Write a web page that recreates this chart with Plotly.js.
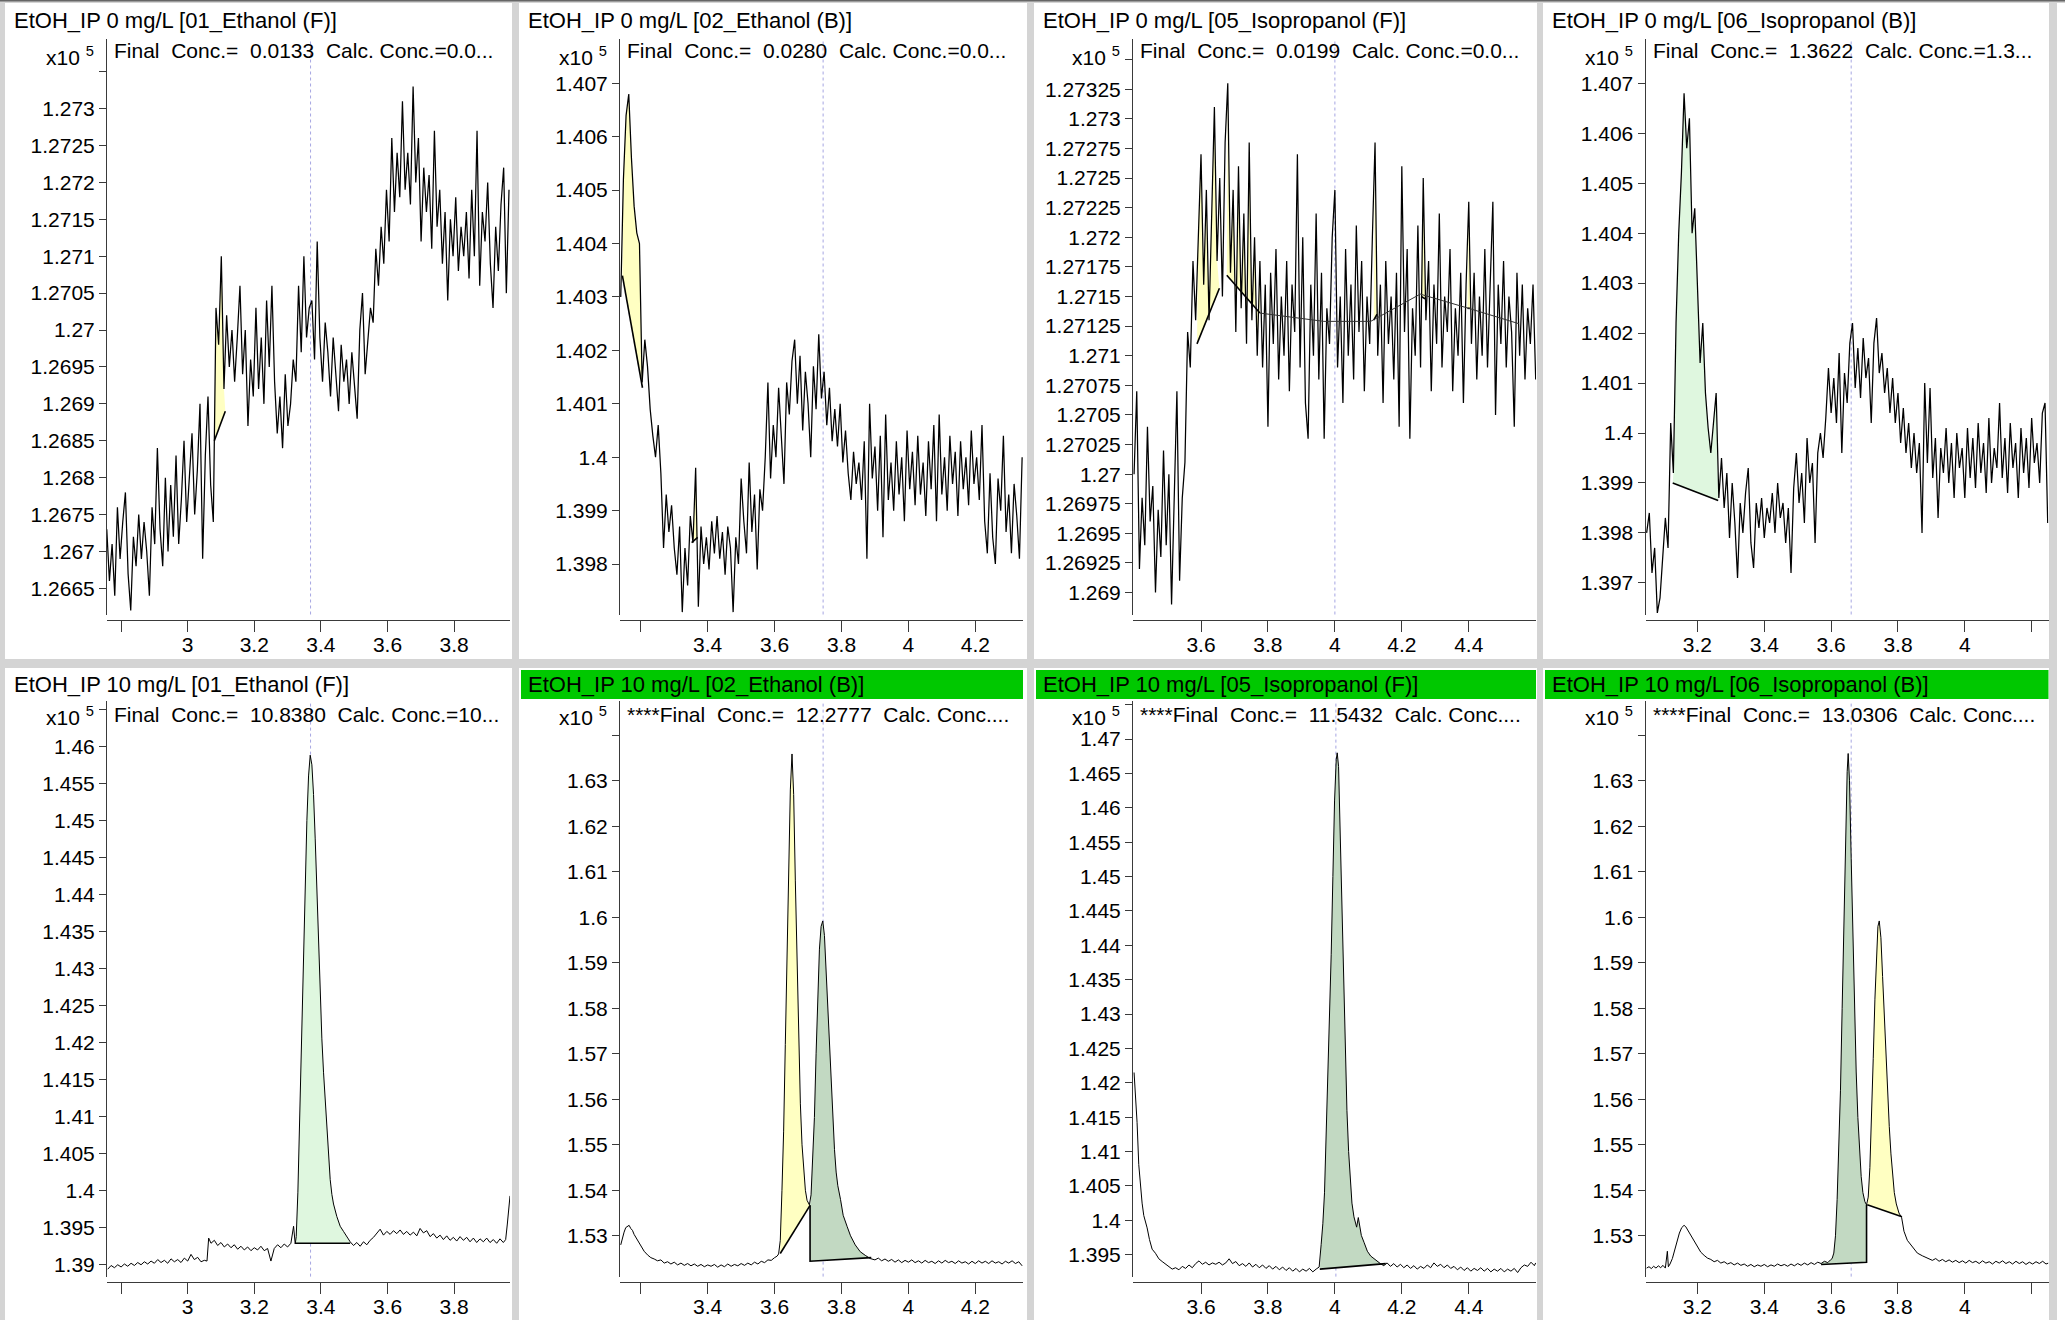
<!DOCTYPE html>
<html><head><meta charset="utf-8">
<script src="https://cdn.plot.ly/plotly-3.0.1.min.js"></script>
<style>html,body{margin:0;padding:0;background:#d4d4d4;}#chart{width:2065px;height:1320px;}</style>
</head><body><div id="chart"></div>
<script>
// ---------------- DATA ----------------
const titles = ['EtOH_IP 0 mg/L [01_Ethanol (F)]','EtOH_IP 0 mg/L [02_Ethanol (B)]','EtOH_IP 0 mg/L [05_Isopropanol (F)]','EtOH_IP 0 mg/L [06_Isopropanol (B)]',
  'EtOH_IP 10 mg/L [01_Ethanol (F)]','EtOH_IP 10 mg/L [02_Ethanol (B)]','EtOH_IP 10 mg/L [05_Isopropanol (F)]','EtOH_IP 10 mg/L [06_Isopropanol (B)]'];
const concTexts = ['Final\u00a0 Conc.=\u00a0 0.0133\u00a0 Calc. Conc.=0.0...','Final\u00a0 Conc.=\u00a0 0.0280\u00a0 Calc. Conc.=0.0...','Final\u00a0 Conc.=\u00a0 0.0199\u00a0 Calc. Conc.=0.0...','Final\u00a0 Conc.=\u00a0 1.3622\u00a0 Calc. Conc.=1.3...',
  'Final\u00a0 Conc.=\u00a0 10.8380\u00a0 Calc. Conc.=10...','****Final\u00a0 Conc.=\u00a0 12.2777\u00a0 Calc. Conc....','****Final\u00a0 Conc.=\u00a0 11.5432\u00a0 Calc. Conc....','****Final\u00a0 Conc.=\u00a0 13.0306\u00a0 Calc. Conc....'];
const flagged = [false,false,false,false,false,true,true,true];
const rtMarks = [3.369,3.745,4.0,3.66,3.369,3.745,4.003,3.66];
const exponentLabel = 'x10 <sup>5</sup>';

// x tick labels (hidden = unlabeled ticks)
const xTicksEth = [3,3.2,3.4,3.6,3.8], xHidEth = [2.8];
const xTicksEthB = [3.4,3.6,3.8,4,4.2], xHidEthB = [3.2];
const xTicksIpF = [3.6,3.8,4,4.2,4.4], xHidIpF = [];
const xTicksIpB = [3.2,3.4,3.6,3.8,4], xHidIpB = [4.2];
// y tick labels
const yT1 = [1.2665,1.267,1.2675,1.268,1.2685,1.269,1.2695,1.27,1.2705,1.271,1.2715,1.272,1.2725,1.273], yH1=[1.2735];
const yT2 = [1.398,1.399,1.4,1.401,1.402,1.403,1.404,1.405,1.406,1.407], yH2=[];
const yT3 = [1.269,1.26925,1.2695,1.26975,1.27,1.27025,1.2705,1.27075,1.271,1.27125,1.2715,1.27175,1.272,1.27225,1.2725,1.27275,1.273,1.27325], yH3=[1.2735];
const yT4 = [1.397,1.398,1.399,1.4,1.401,1.402,1.403,1.404,1.405,1.406,1.407], yH4=[];
const yT5 = [1.39,1.395,1.4,1.405,1.41,1.415,1.42,1.425,1.43,1.435,1.44,1.445,1.45,1.455,1.46], yH5=[1.465];
const yT6 = [1.53,1.54,1.55,1.56,1.57,1.58,1.59,1.6,1.61,1.62,1.63], yH6=[1.64];
const yT7 = [1.395,1.4,1.405,1.41,1.415,1.42,1.425,1.43,1.435,1.44,1.445,1.45,1.455,1.46,1.465,1.47], yH7=[1.475];
const yT8 = [1.53,1.54,1.55,1.56,1.57,1.58,1.59,1.6,1.61,1.62,1.63], yH8=[1.64];

// Panel 1: EtOH_IP 0 mg/L [01_Ethanol (F)]
const t1 = [2.757,2.765,2.773,2.781,2.789,2.797,2.805,2.813,2.821,2.829,
2.837,2.845,2.853,2.861,2.869,2.877,2.885,2.893,2.901,2.909,
2.917,2.925,2.933,2.941,2.949,2.957,2.965,2.973,2.981,2.989,
2.997,3.005,3.013,3.021,3.029,3.037,3.045,3.053,3.061,3.069,
3.077,3.085,3.093,3.101,3.109,3.117,3.125,3.133,3.141,3.149,
3.157,3.165,3.173,3.181,3.189,3.197,3.205,3.213,3.221,3.229,
3.237,3.245,3.253,3.261,3.269,3.277,3.285,3.293,3.301,3.309,
3.317,3.325,3.333,3.341,3.349,3.357,3.365,3.373,3.381,3.389,
3.397,3.405,3.413,3.421,3.429,3.437,3.445,3.453,3.461,3.469,
3.477,3.485,3.493,3.501,3.509,3.517,3.525,3.533,3.541,3.549,
3.557,3.565,3.573,3.581,3.589,3.597,3.605,3.613,3.621,3.629,
3.637,3.645,3.653,3.661,3.669,3.677,3.685,3.693,3.701,3.709,
3.717,3.725,3.733,3.741,3.749,3.757,3.765,3.773,3.781,3.789,
3.797,3.805,3.813,3.821,3.829,3.837,3.845,3.853,3.861,3.869,
3.877,3.885,3.893,3.901,3.909,3.917,3.925,3.933,3.941,3.949,
3.957,3.965];
const a1 = [1.2673,1.2666,1.2671,1.2664,1.2676,1.2669,
1.2674,1.2678,1.2667,1.2662,1.2672,1.2668,
1.2675,1.2669,1.2674,1.2670,1.2664,1.2676,
1.2671,1.2684,1.2673,1.2668,1.2680,1.2670,
1.2679,1.2672,1.2683,1.2671,1.2677,1.2685,1.2674,
1.2680,1.2686,1.2675,1.2681,1.2690,1.2669,1.2683,1.2691,1.2679,1.2674,
1.2703,1.2698,1.2710,1.2692,1.2702,1.2695,1.2700,
1.2693,1.2699,1.2706,1.2694,1.2700,1.2687,1.2696,1.2691,
1.2703,1.2692,1.2699,1.2690,1.2704,1.2695,1.2706,
1.2693,1.2686,1.2691,1.2684,1.2694,1.2687,1.2690,1.2696,
1.2693,1.2706,1.2697,1.2710,1.2699,1.2703,
1.2704,1.2696,1.2712,1.2699,1.2693,1.2701,
1.2697,1.2691,1.2699,1.2694,1.2689,1.2698,1.2693,
1.2696,1.2690,1.2697,1.2692,1.2688,1.2700,1.2705,
1.2694,1.2699,1.2703,1.2701,1.2711,1.2706,1.2714,1.2709,1.2719,
1.2712,1.2726,1.2716,1.2724,1.2718,1.2731,1.2719,
1.2724,1.2717,1.2733,1.2720,1.2726,1.2712,1.2722,1.2716,
1.2721,1.2711,1.2727,1.2714,1.2719,1.2709,1.2716,
1.2704,1.2715,1.2710,1.2718,1.2708,1.2714,1.2710,1.2716,
1.2707,1.2719,1.2710,1.2727,1.2706,1.2716,1.2712,
1.2720,1.2709,1.2703,1.2714,1.2708,1.2717,1.2722,1.2705,1.2719];

// Panel 2: EtOH_IP 0 mg/L [02_Ethanol (B)]
const t2 = [3.14,3.148,3.156,3.164,3.172,3.18,3.188,3.196,3.204,3.212,3.22,3.228,3.236,3.244,3.252,3.26,3.268,3.276,3.284,3.292,
3.3,3.308,3.316,3.324,3.332,3.34,3.348,3.356,3.364,3.372,
3.38,3.388,3.396,3.404,3.412,3.42,3.428,3.436,3.444,3.452,
3.46,3.468,3.476,3.484,3.492,3.5,3.508,3.516,3.524,3.532,
3.54,3.548,3.556,3.564,3.572,3.58,3.588,3.596,3.604,3.612,
3.62,3.628,3.636,3.644,3.652,3.66,3.668,3.676,3.684,3.692,
3.7,3.708,3.716,3.724,3.732,3.74,3.748,3.756,3.764,3.772,
3.78,3.788,3.796,3.804,3.812,3.82,3.828,3.836,3.844,3.852,
3.86,3.868,3.876,3.884,3.892,3.9,3.908,3.916,3.924,3.932,
3.94,3.948,3.956,3.964,3.972,3.98,3.988,3.996,4.004,4.012,
4.02,4.028,4.036,4.044,4.052,4.06,4.068,4.076,4.084,4.092,
4.1,4.108,4.116,4.124,4.132,4.14,4.148,4.156,4.164,4.172,
4.18,4.188,4.196,4.204,4.212,4.22,4.228,4.236,4.244,4.252,
4.26,4.268,4.276,4.284,4.292,4.3,4.308,4.316,4.324,4.332,
4.34];
const a2 = [1.4030,1.4052,1.4064,1.4068,1.4056,1.4047,1.4042,1.4040,1.4014,1.4022,1.4017,1.4009,1.4004,1.4000,1.4006,1.3997,1.3983,1.3993,1.3986,1.3991,
1.3983,1.3978,1.3987,1.3971,1.3983,1.3976,1.3989,1.3984,1.3998,1.3972,
1.3987,1.3980,1.3985,1.3979,1.3988,1.3982,1.3989,1.3981,1.3986,1.3978,
1.3987,1.3983,1.3971,1.3985,1.3980,1.3996,1.3988,1.3982,1.3999,1.3986,
1.3993,1.3979,1.3994,1.3990,1.4000,1.4014,1.3996,1.4006,1.4000,1.4013,
1.4004,1.3995,1.4014,1.4008,1.4018,1.4022,1.4010,1.4019,1.4005,1.4016,
1.4010,1.4000,1.4017,1.4009,1.4023,1.4011,1.4016,1.4006,1.4013,1.4003,
1.4009,1.4002,1.4010,1.3999,1.4005,1.3997,1.3992,1.4001,1.3995,1.3999,
1.3992,1.4003,1.3981,1.4010,1.3996,1.4002,1.3990,1.4004,1.3985,1.4008,
1.3992,1.3999,1.3990,1.4003,1.3993,1.4000,1.3988,1.4005,1.3994,1.4001,
1.3991,1.4004,1.3993,1.3999,1.3989,1.4003,1.3994,1.4006,1.3988,1.4008,
1.3993,1.4000,1.3990,1.4004,1.3995,1.4001,1.3989,1.4003,1.3994,1.4000,
1.3991,1.4005,1.3995,1.4000,1.3992,1.4006,1.3988,1.3982,1.3997,1.3985,
1.3980,1.3996,1.3990,1.4004,1.3986,1.3993,1.3982,1.3995,1.3989,1.3981,
1.4000];

// Panel 3: EtOH_IP 0 mg/L [05_Isopropanol (F)]
const t3 = [3.4,3.408,3.416,3.424,3.432,3.44,3.448,3.456,3.464,3.472,
3.48,3.488,3.496,3.504,3.512,3.52,3.528,3.536,3.544,3.552,
3.56,3.568,3.576,3.584,3.592,3.6,3.608,3.616,3.624,3.632,
3.64,3.648,3.656,3.664,3.672,3.68,3.688,3.696,3.704,3.712,
3.72,3.728,3.736,3.744,3.752,3.76,3.768,3.776,3.784,3.792,
3.8,3.808,3.816,3.824,3.832,3.84,3.848,3.856,3.864,3.872,
3.88,3.888,3.896,3.904,3.912,3.92,3.928,3.936,3.944,3.952,
3.96,3.968,3.976,3.984,3.992,4.0,4.008,4.016,4.024,4.032,
4.04,4.048,4.056,4.064,4.072,4.08,4.088,4.096,4.104,4.112,
4.12,4.128,4.136,4.144,4.152,4.16,4.168,4.176,4.184,4.192,
4.2,4.208,4.216,4.224,4.232,4.24,4.248,4.256,4.264,4.272,
4.28,4.288,4.296,4.304,4.312,4.32,4.328,4.336,4.344,4.352,
4.36,4.368,4.376,4.384,4.392,4.4,4.408,4.416,4.424,4.432,
4.44,4.448,4.456,4.464,4.472,4.48,4.488,4.496,4.504,4.512,
4.52,4.528,4.536,4.544,4.552,4.56,4.568,4.576,4.584,4.592,
4.6];
const a3 = [1.2700,1.2707,1.2692,1.2698,1.2694,1.2704,1.2696,1.2699,1.2690,1.2697,
1.2693,1.2702,1.2694,1.2700,1.2689,1.2697,1.2707,1.2691,1.2698,1.2701,
1.2712,1.2709,1.2718,1.2713,1.2721,1.2727,1.2716,1.2724,1.2713,1.2722,
1.2731,1.2718,1.2725,1.2715,1.2728,1.2733,1.2717,1.2724,1.2712,1.2726,
1.2714,1.2722,1.2711,1.2728,1.2713,1.2720,1.2710,1.2718,1.2709,1.2716,
1.2704,1.2717,1.2711,1.2719,1.2708,1.2715,1.2710,1.2718,1.2707,1.2716,
1.2712,1.2727,1.2709,1.2720,1.2706,1.2703,1.2716,1.2710,1.2722,1.2708,
1.2717,1.2703,1.2714,1.2711,1.2720,1.2724,1.2709,1.2715,1.2706,1.2719,
1.2710,1.2716,1.2708,1.2721,1.2712,1.2718,1.2707,1.2715,1.2711,1.2720,
1.2728,1.2710,1.2716,1.2706,1.2718,1.2711,1.2715,1.2708,1.2717,1.2704,
1.2726,1.2712,1.2719,1.2703,1.2714,1.2710,1.2721,1.2709,1.2725,1.2713,
1.2718,1.2707,1.2716,1.2711,1.2722,1.2709,1.2715,1.2712,1.2719,1.2707,
1.2714,1.2710,1.2717,1.2706,1.2716,1.2723,1.2711,1.2717,1.2708,1.2715,
1.2710,1.2719,1.2709,1.2716,1.2723,1.2705,1.2716,1.2711,1.2718,1.2709,
1.2715,1.2712,1.2704,1.2717,1.2710,1.2716,1.2708,1.2714,1.2711,1.2716,
1.2708];

// Panel 4: EtOH_IP 0 mg/L [06_Isopropanol (B)]
const t4 = [3.048,3.056,3.064,3.072,3.08,3.088,3.096,3.104,3.112,3.12,
3.128,3.136,3.144,3.152,3.16,3.168,3.176,3.184,3.192,3.2,
3.208,3.216,3.224,3.232,3.24,3.248,3.256,3.264,3.272,3.28,
3.288,3.296,3.304,3.312,3.32,3.328,3.336,3.344,3.352,3.36,
3.368,3.376,3.384,3.392,3.4,3.408,3.416,3.424,3.432,3.44,
3.448,3.456,3.464,3.472,3.48,3.488,3.496,3.504,3.512,3.52,
3.528,3.536,3.544,3.552,3.56,3.568,3.576,3.584,3.592,3.6,
3.608,3.616,3.624,3.632,3.64,3.648,3.656,3.664,3.672,3.68,
3.688,3.696,3.704,3.712,3.72,3.728,3.736,3.744,3.752,3.76,
3.768,3.776,3.784,3.792,3.8,3.808,3.816,3.824,3.832,3.84,
3.848,3.856,3.864,3.872,3.88,3.888,3.896,3.904,3.912,3.92,
3.928,3.936,3.944,3.952,3.96,3.968,3.976,3.984,3.992,4.0,
4.008,4.016,4.024,4.032,4.04,4.048,4.056,4.064,4.072,4.08,
4.088,4.096,4.104,4.112,4.12,4.128,4.136,4.144,4.152,4.16,
4.168,4.176,4.184,4.192,4.2,4.208,4.216,4.224,4.232,4.24,
4.248];
const a4 = [1.3980,1.3984,1.3972,1.3977,1.3964,1.3967,1.3975,1.3983,1.3977,1.4002,
1.3992,1.4022,1.4040,1.4052,1.4068,1.4057,1.4063,1.4040,1.4045,1.4030,
1.4014,1.4022,1.4008,1.4001,1.3996,1.4002,1.4008,1.3987,1.3995,1.3985,
1.3992,1.3979,1.3990,1.3982,1.3971,1.3986,1.3980,1.3988,1.3993,1.3978,
1.3973,1.3986,1.3981,1.3987,1.3979,1.3985,1.3982,1.3988,1.3980,1.3990,
1.3983,1.3986,1.3978,1.3985,1.3972,1.3989,1.3996,1.3986,1.3992,1.3982,
1.3999,1.3990,1.3994,1.3978,1.3996,1.4000,1.3995,1.4003,1.4013,1.4004,
1.4011,1.4002,1.4016,1.3996,1.4012,1.4006,1.4018,1.4022,1.4009,1.4017,
1.4007,1.4019,1.4011,1.4015,1.4002,1.4018,1.4023,1.4012,1.4016,1.4008,
1.4013,1.4004,1.4011,1.4002,1.4008,1.3998,1.4005,1.3996,1.4002,1.3993,
1.4000,1.3992,1.3998,1.3980,1.4010,1.3994,1.4009,1.3991,1.3999,1.3983,
1.3997,1.3992,1.4001,1.3990,1.3998,1.3987,1.4000,1.3993,1.3997,1.3987,
1.4001,1.3991,1.3999,1.3989,1.4002,1.3992,1.3998,1.3988,1.4003,1.3990,
1.3997,1.3993,1.4006,1.3991,1.3999,1.3988,1.4002,1.3993,1.3998,1.3987,
1.4001,1.3992,1.3999,1.3989,1.4003,1.3994,1.3998,1.3990,1.4004,1.4006,
1.3982];

// Panel 5: EtOH_IP 10 mg/L [01_Ethanol (F)]
const t5 = [2.76,2.77,2.78,2.79,2.8,2.81,2.82,2.83,2.84,2.85,2.86,2.87,2.88,2.89,2.9,2.91,2.92,2.93,2.94,2.95,
2.96,2.97,2.98,2.99,3.0,3.01,3.02,3.03,3.04,3.05,3.058,3.063,3.07,3.08,3.09,3.1,3.11,3.12,3.13,3.14,
3.15,3.16,3.17,3.18,3.19,3.2,3.21,3.22,3.23,3.24,3.25,3.26,3.27,3.28,3.29,3.3,3.31,3.318,3.323,3.326,
3.331,3.338,3.343,3.348,3.353,3.358,3.363,3.368,3.373,3.378,3.383,3.388,3.393,3.398,3.403,3.408,3.413,3.418,3.423,3.428,
3.433,3.438,3.448,3.458,3.468,3.478,3.488,3.498,3.508,3.518,3.528,3.538,3.548,3.558,3.568,3.578,3.588,3.598,3.608,3.618,
3.628,3.638,3.648,3.658,3.668,3.678,3.688,3.698,3.708,3.718,3.728,3.738,3.748,3.758,3.768,3.778,3.788,3.798,3.808,3.818,
3.828,3.838,3.848,3.858,3.868,3.878,3.888,3.898,3.908,3.918,3.928,3.938,3.948,3.955,3.96,3.965,3.968];
const a5 = [1.3894,1.3899,1.3896,1.3900,1.3897,1.3901,1.3898,1.3902,1.3899,1.3903,1.3900,1.3904,1.3901,1.3905,1.3902,1.3907,1.3903,1.3906,1.3902,1.3908,
1.3904,1.3907,1.3903,1.3909,1.3905,1.3914,1.3907,1.3910,1.3904,1.3906,1.3905,1.3936,1.3929,1.3933,1.3926,1.3930,1.3924,1.3928,1.3923,1.3927,
1.3921,1.3925,1.3920,1.3924,1.3919,1.3923,1.3920,1.3925,1.3919,1.3922,1.3905,1.3922,1.3927,1.3923,1.3928,1.3924,1.3929,1.3952,1.3928,1.3938,
1.3998,1.4130,1.4245,1.4330,1.4420,1.4500,1.4560,1.4588,1.4575,1.4535,1.4475,1.4400,1.4330,1.4265,1.4205,1.4160,1.4120,1.4080,1.4045,1.4015,
1.3995,1.3982,1.3965,1.3952,1.3945,1.3937,1.3931,1.3926,1.3930,1.3925,1.3931,1.3927,1.3933,1.3937,1.3942,1.3948,1.3940,1.3945,1.3941,1.3946,
1.3942,1.3947,1.3941,1.3945,1.3940,1.3944,1.3939,1.3949,1.3943,1.3946,1.3938,1.3942,1.3936,1.3940,1.3934,1.3939,1.3933,1.3937,1.3932,1.3938,
1.3933,1.3937,1.3931,1.3936,1.3930,1.3935,1.3931,1.3936,1.3930,1.3934,1.3929,1.3935,1.3930,1.3934,1.3955,1.3978,1.3993];

// Panel 6: EtOH_IP 10 mg/L [02_Ethanol (B)]
const t6 = [3.14,3.145,3.15,3.155,3.16,3.165,3.17,3.175,3.18,3.19,3.2,3.21,3.22,3.23,3.24,3.25,3.26,3.27,3.28,3.29,
3.3,3.31,3.32,3.33,3.34,3.35,3.36,3.37,3.38,3.39,3.4,3.41,3.42,3.43,3.44,3.45,3.46,3.47,3.48,3.49,
3.5,3.51,3.52,3.53,3.54,3.55,3.56,3.57,3.58,3.59,3.6,3.607,3.612,3.617,3.622,3.627,3.632,3.637,3.642,3.647,
3.652,3.657,3.662,3.667,3.672,3.677,3.682,3.687,3.692,3.697,3.704,3.709,3.714,3.719,3.724,3.729,3.734,3.739,3.744,3.749,
3.754,3.759,3.764,3.769,3.774,3.779,3.784,3.789,3.797,3.805,3.817,3.827,3.841,3.856,3.871,3.886,3.9,3.91,3.92,3.93,
3.94,3.95,3.96,3.97,3.98,3.99,4.0,4.01,4.02,4.03,4.04,4.05,4.06,4.07,4.08,4.09,4.1,4.11,4.12,4.13,
4.14,4.15,4.16,4.17,4.18,4.19,4.2,4.21,4.22,4.23,4.24,4.25,4.26,4.27,4.28,4.29,4.3,4.31,4.32,4.33,4.34];
const a6 = [1.5280,1.5295,1.5308,1.5318,1.5321,1.5323,1.5316,1.5312,1.5303,1.5290,1.5276,1.5266,1.5258,1.5252,1.5249,1.5245,1.5247,1.5240,1.5243,1.5238,
1.5242,1.5236,1.5240,1.5235,1.5239,1.5234,1.5238,1.5233,1.5237,1.5232,1.5236,1.5233,1.5237,1.5231,1.5236,1.5232,1.5238,1.5233,1.5237,1.5234,
1.5239,1.5235,1.5240,1.5236,1.5242,1.5238,1.5244,1.5241,1.5247,1.5246,1.5252,1.5255,1.5260,1.5290,1.5400,1.5530,1.5720,1.5900,1.6100,1.6280,
1.6359,1.6270,1.6080,1.5900,1.5720,1.5590,1.5500,1.5440,1.5400,1.5378,1.5368,1.5390,1.5460,1.5560,1.5700,1.5830,1.5930,1.5980,1.5992,1.5960,
1.5880,1.5790,1.5700,1.5620,1.5550,1.5490,1.5440,1.5410,1.5380,1.5345,1.5320,1.5300,1.5280,1.5265,1.5257,1.5250,1.5247,1.5251,1.5245,1.5249,
1.5244,1.5248,1.5242,1.5247,1.5241,1.5246,1.5242,1.5247,1.5241,1.5245,1.5240,1.5246,1.5241,1.5244,1.5239,1.5245,1.5240,1.5246,1.5241,1.5244,
1.5239,1.5245,1.5240,1.5243,1.5238,1.5244,1.5239,1.5245,1.5240,1.5244,1.5239,1.5245,1.5240,1.5243,1.5238,1.5244,1.5240,1.5245,1.5239,1.5243,1.5234];

// Panel 7: EtOH_IP 10 mg/L [05_Isopropanol (F)]
const t7 = [3.4,3.404,3.409,3.414,3.419,3.424,3.429,3.434,3.439,3.446,3.454,3.464,3.474,3.484,3.494,3.504,3.514,3.524,3.534,3.544,
3.554,3.564,3.574,3.584,3.594,3.604,3.614,3.624,3.634,3.644,3.654,3.664,3.674,3.684,3.694,3.704,3.714,3.724,3.734,3.744,
3.754,3.764,3.774,3.784,3.794,3.804,3.814,3.824,3.834,3.844,3.854,3.864,3.874,3.884,3.894,3.904,3.914,3.924,3.934,3.944,
3.953,3.959,3.964,3.969,3.974,3.979,3.984,3.989,3.994,3.999,4.004,4.007,4.011,4.016,4.021,4.026,4.031,4.036,4.041,4.046,
4.051,4.057,4.065,4.07,4.079,4.087,4.097,4.107,4.122,4.136,4.146,4.156,4.166,4.176,4.186,4.196,4.206,4.216,4.226,4.236,
4.246,4.256,4.266,4.276,4.286,4.296,4.306,4.316,4.326,4.336,4.346,4.356,4.366,4.376,4.386,4.396,4.406,4.416,4.426,4.436,
4.446,4.456,4.466,4.476,4.486,4.496,4.506,4.516,4.526,4.536,4.546,4.556,4.566,4.576,4.586,4.596,4.6];
const a7 = [1.4215,1.4188,1.4142,1.4081,1.4050,1.4025,1.4007,1.3998,1.3989,1.3972,1.3958,1.3952,1.3944,1.3940,1.3936,1.3932,1.3929,1.3931,1.3928,1.3933,
1.3930,1.3935,1.3931,1.3937,1.3941,1.3936,1.3939,1.3935,1.3938,1.3936,1.3939,1.3935,1.3938,1.3944,1.3937,1.3940,1.3934,1.3937,1.3933,1.3938,
1.3932,1.3936,1.3931,1.3935,1.3930,1.3934,1.3929,1.3933,1.3928,1.3932,1.3927,1.3931,1.3926,1.3930,1.3925,1.3929,1.3926,1.3930,1.3925,1.3929,
1.3932,1.3965,1.3995,1.4040,1.4120,1.4203,1.4300,1.4387,1.4500,1.4610,1.4670,1.4680,1.4660,1.4560,1.4450,1.4330,1.4240,1.4160,1.4100,1.4055,
1.4025,1.4005,1.3990,1.4004,1.3978,1.3968,1.3955,1.3948,1.3942,1.3937,1.3934,1.3938,1.3933,1.3937,1.3932,1.3936,1.3931,1.3935,1.3930,1.3934,
1.3929,1.3933,1.3930,1.3935,1.3931,1.3938,1.3933,1.3936,1.3931,1.3935,1.3930,1.3933,1.3928,1.3932,1.3927,1.3931,1.3926,1.3930,1.3927,1.3931,
1.3926,1.3930,1.3925,1.3929,1.3926,1.3930,1.3925,1.3929,1.3926,1.3930,1.3924,1.3931,1.3935,1.3933,1.3939,1.3934,1.3938];

// Panel 8: EtOH_IP 10 mg/L [06_Isopropanol (B)]
const t8 = [3.048,3.055,3.062,3.069,3.076,3.083,3.09,3.097,3.104,3.11,3.113,3.118,3.125,3.132,3.139,3.146,3.153,3.16,3.165,3.17,
3.177,3.184,3.191,3.2,3.21,3.22,3.23,3.24,3.25,3.26,3.27,3.28,3.29,3.3,3.31,3.32,3.33,3.34,3.35,3.36,
3.37,3.38,3.39,3.4,3.41,3.42,3.43,3.44,3.45,3.46,3.47,3.48,3.49,3.5,3.51,3.52,3.53,3.54,3.55,3.56,
3.57,3.58,3.59,3.598,3.603,3.608,3.613,3.618,3.623,3.628,3.633,3.638,3.643,3.648,3.651,3.655,3.66,3.665,3.67,3.675,
3.68,3.685,3.69,3.695,3.701,3.706,3.711,3.716,3.721,3.726,3.731,3.736,3.74,3.744,3.749,3.754,3.759,3.764,3.769,3.774,
3.779,3.784,3.789,3.795,3.803,3.811,3.818,3.828,3.843,3.858,3.873,3.893,3.903,3.913,3.923,3.933,3.943,3.953,3.963,3.973,
3.983,3.993,4.003,4.013,4.023,4.033,4.043,4.053,4.063,4.073,4.083,4.093,4.103,4.113,4.123,4.133,4.143,4.153,4.163,4.173,
4.183,4.193,4.203,4.213,4.223,4.233,4.243,4.25];
const a8 = [1.5229,1.5232,1.5228,1.5233,1.5229,1.5234,1.5230,1.5235,1.5229,1.5266,1.5232,1.5238,1.5250,1.5268,1.5290,1.5306,1.5318,1.5323,1.5320,1.5314,
1.5305,1.5296,1.5286,1.5276,1.5264,1.5257,1.5251,1.5248,1.5243,1.5246,1.5240,1.5243,1.5238,1.5241,1.5236,1.5240,1.5235,1.5238,1.5233,1.5237,
1.5232,1.5236,1.5233,1.5237,1.5232,1.5236,1.5233,1.5238,1.5234,1.5237,1.5233,1.5238,1.5234,1.5239,1.5235,1.5240,1.5236,1.5241,1.5237,1.5242,
1.5239,1.5244,1.5241,1.5247,1.5250,1.5262,1.5300,1.5380,1.5480,1.5620,1.5800,1.6000,1.6180,1.6320,1.6360,1.6300,1.6130,1.5950,1.5790,1.5660,
1.5560,1.5480,1.5430,1.5395,1.5375,1.5368,1.5385,1.5450,1.5550,1.5690,1.5820,1.5925,1.5980,1.5992,1.5955,1.5870,1.5780,1.5690,1.5610,1.5540,
1.5480,1.5430,1.5395,1.5370,1.5350,1.5340,1.5310,1.5290,1.5275,1.5262,1.5256,1.5250,1.5246,1.5250,1.5244,1.5248,1.5243,1.5247,1.5242,1.5246,
1.5241,1.5245,1.5240,1.5246,1.5241,1.5244,1.5239,1.5245,1.5240,1.5243,1.5238,1.5244,1.5240,1.5245,1.5239,1.5243,1.5238,1.5244,1.5239,1.5243,
1.5237,1.5242,1.5238,1.5243,1.5239,1.5244,1.5238,1.5240];

// Integrated peaks: panel index, curve window [lo,hi], baseline path (drawn right-to-left), kind
const peakPanel = [0,1,1,2,2,2,2,2,2,3,4,5,5,6,7,7];
const peakLo    = [3.080,3.145,3.352,3.588,3.677,4.116,4.258,4.396,0,3.126,3.323,3.617,3.707,3.955,3.570,3.707];
const peakHi    = [3.113,3.205,3.370,3.655,3.776,4.126,4.270,4.404,0,3.262,3.488,3.705,3.889,4.152,3.705,3.812];
const peakBaseX = [[3.113,3.080],[3.205,3.145],[3.370,3.352],[3.655,3.588],[3.776,3.677],[4.126,4.116],[4.270,4.258],[4.404,4.396],
  [3.776,3.967,4.107,4.255,4.400,4.550],[3.262,3.126],[3.488,3.323],[3.706,3.617],[3.889,3.706,3.706],[4.152,3.955],[3.706,3.706,3.570],[3.812,3.708]];
const peakBaseY = [[1.26890,1.26850],[1.4013,1.4034],[1.3985,1.3984],[1.27157,1.27110],[1.27136,1.27168],[1.27135,1.27130],[1.27148,1.27150],[1.27140,1.27140],
  [1.27136,1.27129,1.27129,1.27152,1.27140,1.27127],[1.39865,1.39900],[1.3929,1.3929],[1.5367,1.5261],[1.5252,1.5244,1.5367],[1.3937,1.3929],[1.5368,1.5242,1.5237],[1.5342,1.5368]];
const peakKind  = ['qual','qual','qual','qual','qual','qual','qual','qual','none','target','target','qual','target2','target2','target2','qual'];

// ---------------- LAYOUT / STYLE ----------------
const W = 2065, H = 1320;
const FONT = 'Liberation Sans, Arial, sans-serif';
const AX = '#3a3a3a';
const fillColors = {qual:'#ffffc2', target:'#dff7df', target2:'#c2d9c2'};
const series = [[t1,a1],[t2,a2],[t3,a3],[t4,a4],[t5,a5],[t6,a6],[t7,a7],[t8,a8]];
const xTickSets = [[xTicksEth,xHidEth],[xTicksEthB,xHidEthB],[xTicksIpF,xHidIpF],[xTicksIpB,xHidIpB]];
const yTickSets = [[yT1,yH1],[yT2,yH2],[yT3,yH3],[yT4,yH4],[yT5,yH5],[yT6,yH6],[yT7,yH7],[yT8,yH8]];

// geometry (pixels)
const colL = [5,519,1034,1543], colR = [512,1027,1537,2049];
const rowT = [3,668], rowB = [659,1320];
const axL = [107,620,1133,1645.5], axR = [510,1023,1536,2048.5];
const axT = [39,701], axB = [614.5,1276.6], xLineY = [619.5,1282];
const titleY = [21,684], expY = [56,716], concY = [51,714];
const xRanges = [[2.7577,3.968],[3.1378,4.3426],[3.3968,4.6009],[3.0446,4.2504]];
const yRanges = [[1.266146,1.273943],[1.397055,1.407829],[1.268815,1.273674],[1.396367,1.407887],
                 [1.3884,1.46612],[1.52103,1.64754],[1.39181,1.47554],[1.52103,1.64754]];

const px = v => v / W, py = v => 1 - v / H;

const layout = {
  width: W, height: H, margin: {l:0,r:0,t:0,b:0},
  paper_bgcolor: '#d4d4d4', plot_bgcolor: 'rgba(0,0,0,0)',
  showlegend: false, hovermode: false,
  font: {family: FONT, size: 21, color: '#000'},
  shapes: [], annotations: []
};

// page frame
layout.shapes.push({type:'rect',xref:'paper',yref:'paper',x0:0,x1:1,y0:py(1.5),y1:1,fillcolor:'#666',line:{width:0},layer:'below'});
layout.shapes.push({type:'rect',xref:'paper',yref:'paper',x0:px(2057),x1:1,y0:0,y1:py(3),fillcolor:'#fff',line:{width:0},layer:'below'});
for (let r = 0; r < 2; r++) for (let c = 0; c < 4; c++) {
  layout.shapes.push({type:'rect',xref:'paper',yref:'paper',x0:px(colL[c]),x1:px(colR[c]),y0:py(rowB[r]),y1:py(rowT[r]),
    fillcolor:'#ffffff',line:{width:0},layer:'below'});
}

const traces = [];
for (let i = 0; i < 8; i++) {
  const r = i < 4 ? 0 : 1, c = i % 4;
  const sfx = i === 0 ? '' : String(i + 1);
  const xs = series[i][0], ys = series[i][1];
  const [xt, xh] = xTickSets[c];
  const [yt, yh] = yTickSets[i];

  const xAxis = {
    domain: [px(axL[c]), px(axR[c])], range: xRanges[c], anchor: 'free', position: py(xLineY[r]),
    showline: true, linecolor: AX, linewidth: 1, ticks: 'outside', ticklen: 11, tickwidth: 1, tickcolor: AX,
    ticklabelstandoff: -5, tickmode: 'array', tickvals: xt, ticktext: xt.map(String),
    tickfont: {family: FONT, size: 21, color: '#000'}, showgrid: false, zeroline: false, fixedrange: true
  };
  if (xh.length) xAxis.minor = {tickmode:'array', tickvals: xh, ticks:'outside', ticklen: 11, tickwidth: 1, tickcolor: AX, showgrid: false};
  layout['xaxis' + sfx] = xAxis;

  const yAxis = {
    domain: [py(axB[r]), py(axT[r])], range: yRanges[i], anchor: 'x' + sfx,
    showline: true, linecolor: AX, linewidth: 1, ticks: 'outside', ticklen: 7, tickwidth: 1, tickcolor: AX,
    tickmode: 'array', tickvals: yt, ticktext: yt.map(String),
    tickfont: {family: FONT, size: 21, color: '#000'}, showgrid: false, zeroline: false, fixedrange: true
  };
  if (yh.length) yAxis.minor = {tickmode:'array', tickvals: yh, ticks:'outside', ticklen: 7, tickwidth: 1, tickcolor: AX, showgrid: false};
  layout['yaxis' + sfx] = yAxis;

  // header
  if (flagged[i]) {
    layout.shapes.push({type:'rect',xref:'paper',yref:'paper',x0:px(colL[c]+2),x1:px(axR[c]),y0:py(699),y1:py(670),
      fillcolor:'#00c800',line:{width:0},layer:'below'});
  }
  layout.annotations.push({xref:'paper',yref:'paper',x:px(colL[c]+7),y:py(titleY[r]),xanchor:'left',yanchor:'middle',
    text:titles[i],showarrow:false,font:{family:FONT,size:22,color:'#000'}});
  layout.annotations.push({xref:'paper',yref:'paper',x:px(axL[c]-11),y:py(expY[r]),xanchor:'right',yanchor:'middle',
    text:exponentLabel,showarrow:false,font:{family:FONT,size:21,color:'#000'}});
  layout.annotations.push({xref:'paper',yref:'paper',x:px(axL[c]+5),y:py(concY[r]),xanchor:'left',yanchor:'middle',
    text:concTexts[i],showarrow:false,font:{family:FONT,size:21,color:'#000'}});

  // expected RT marker
  layout.shapes.push({type:'line',xref:'x'+sfx,yref:'y'+sfx+' domain',x0:rtMarks[i],x1:rtMarks[i],y0:0,y1:1,
    line:{color:'#a6a6e2',width:1,dash:'dot'},layer:'below'});

  // peak fills
  const myPeaks = [];
  for (let k = 0; k < peakPanel.length; k++) if (peakPanel[k] === i) myPeaks.push(k);
  myPeaks.forEach(k => {
    if (peakKind[k] === 'none') return;
    const fx = [], fy = [];
    for (let j = 0; j < xs.length; j++) if (xs[j] >= peakLo[k] && xs[j] <= peakHi[k]) { fx.push(xs[j]); fy.push(ys[j]); }
    peakBaseX[k].forEach((b, m) => { fx.push(b); fy.push(peakBaseY[k][m]); });
    traces.push({type:'scatter',mode:'lines',x:fx,y:fy,xaxis:'x'+sfx,yaxis:'y'+sfx,fill:'toself',
      fillcolor:fillColors[peakKind[k]],line:{width:0},hoverinfo:'skip'});
  });
  // signal
  traces.push({type:'scatter',mode:'lines',x:xs,y:ys,xaxis:'x'+sfx,yaxis:'y'+sfx,
    line:{color:'#000',width: r === 0 ? 1.25 : 1},hoverinfo:'skip'});
  // baselines
  myPeaks.forEach(k => {
    traces.push({type:'scatter',mode:'lines',x:peakBaseX[k],y:peakBaseY[k],xaxis:'x'+sfx,yaxis:'y'+sfx,
      line:{color: peakKind[k] === 'none' ? '#333' : '#000', width: peakKind[k] === 'none' ? 1 : 1.6},hoverinfo:'skip'});
  });
}

Plotly.newPlot('chart', traces, layout, {displayModeBar:false, staticPlot:true});
</script></body></html>
